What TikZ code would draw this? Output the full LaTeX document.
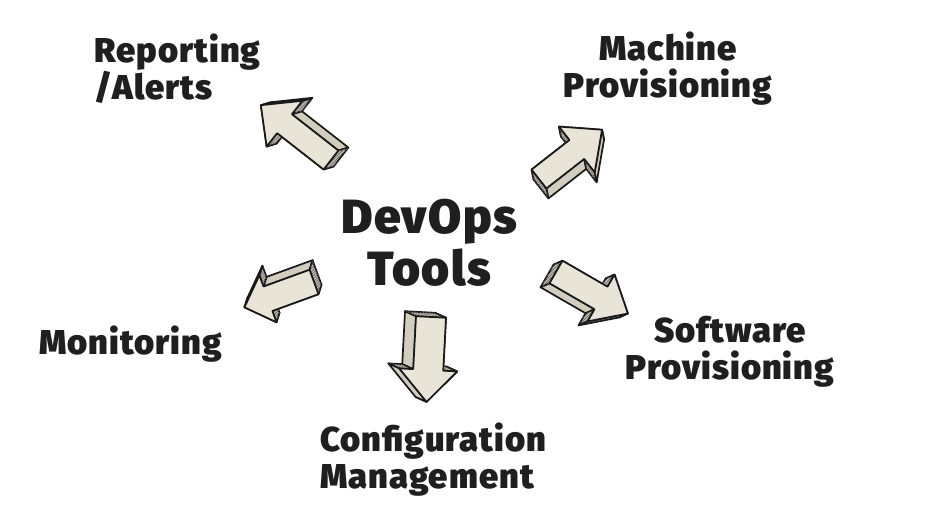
\documentclass[tikz,border=0pt]{standalone}
\usepackage{fontspec}
\setmainfont{Fira Sans}[BoldFont={Fira Sans Black}, LetterSpace=3]
\usepackage{tikz}
\usetikzlibrary{patterns}

\definecolor{arrowfront}{HTML}{E9E4D8}
\definecolor{arrowside}{HTML}{D3CDBF}
\definecolor{arrowend}{HTML}{BDB7A9}

% 3d block arrow: tail x, tail y, angle, length, shaft length, shaft half width, head half width, depth x, depth y
\newcommand{\devarrow}[9]{%
  \pgfmathsetmacro\ddx{(#8)*cos(#3)+(#9)*sin(#3)}%
  \pgfmathsetmacro\ddy{-(#8)*sin(#3)+(#9)*cos(#3)}%
  \begin{scope}[shift={(#1,#2)}, rotate=#3]
    % hidden faces first, then the visible ones
    \foreach \pass in {0,1} {
      \foreach \xa/\ya/\xb/\yb/\face in {0/-#6/#5/-#6/sideface, #5/-#6/#5/-#7/endface, #5/-#7/#4/0/sideface, #4/0/#5/#7/sideface, #5/#7/#5/#6/endface, #5/#6/0/#6/sideface, 0/#6/0/-#6/endface} {
        \pgfmathtruncatemacro\vis{((\ddx)*((\yb)-(\ya))-(\ddy)*((\xb)-(\xa)))>0}
        \ifnum\vis=\pass
          \filldraw[arrowline, \face] (\xa,\ya) -- (\xb,\yb) -- ({\xb+(\ddx)},{\yb+(\ddy)}) -- ({\xa+(\ddx)},{\ya+(\ddy)}) -- cycle;
        \fi
      }
    }
    % front face
    \filldraw[arrowline, fill=arrowfront] (0,-#6) -- (#5,-#6) -- (#5,-#7) -- (#4,0) -- (#5,#7) -- (#5,#6) -- (0,#6) -- cycle;
  \end{scope}
}

\begin{document}
\begin{tikzpicture}[x=1pt, y=1pt,
  arrowline/.style={draw=black!90, line width=1.7pt, line join=round},
  sideface/.style={fill=arrowside},
  endface/.style={fill=arrowend, postaction={pattern=north east lines, pattern color=black!60}},
  tag/.style={font=\fontsize{34.5}{37}\selectfont\bfseries, text=black!88, inner sep=0pt},
  title/.style={font=\fontsize{48}{52}\selectfont\bfseries, text=black!88, inner sep=0pt, align=center}]

  % canvas
  \fill[white] (0,0) rectangle (946,-526);
  \useasboundingbox (0,0) rectangle (946,-526);

  % centre text
  \node[title] (devops) at (429,-243) {DevOps\\Tools};

  % labels round it
  \node[tag, anchor=west, align=left] (report) at (94,-69) {Reporting\\/Alerts};
  \node[tag, align=center] (machine) at (668,-69) {Machine\\Provisioning};
  \node[tag, anchor=west] (monitor) at (39,-344) {Monitoring};
  \node[tag, align=center] (software) at (730,-352) {Software\\Provisioning};
  \node[tag, anchor=west, align=left] (config) at (320,-460) {Configuration\\Management};

  % arrows
  \devarrow{331}{-160}{142}{89}{59}{12}{29}{10}{3}
  \devarrow{539}{-179}{38}{80}{48}{12}{29}{2}{-10}
  \devarrow{556}{-272}{-30}{83}{52}{13}{27}{-9}{-4}
  \devarrow{314}{-282}{200}{74}{49}{13}{25}{3}{9.6}
  \devarrow{431}{-317}{267}{85}{53}{15}{29}{-11}{5}
\end{tikzpicture}
\end{document}
